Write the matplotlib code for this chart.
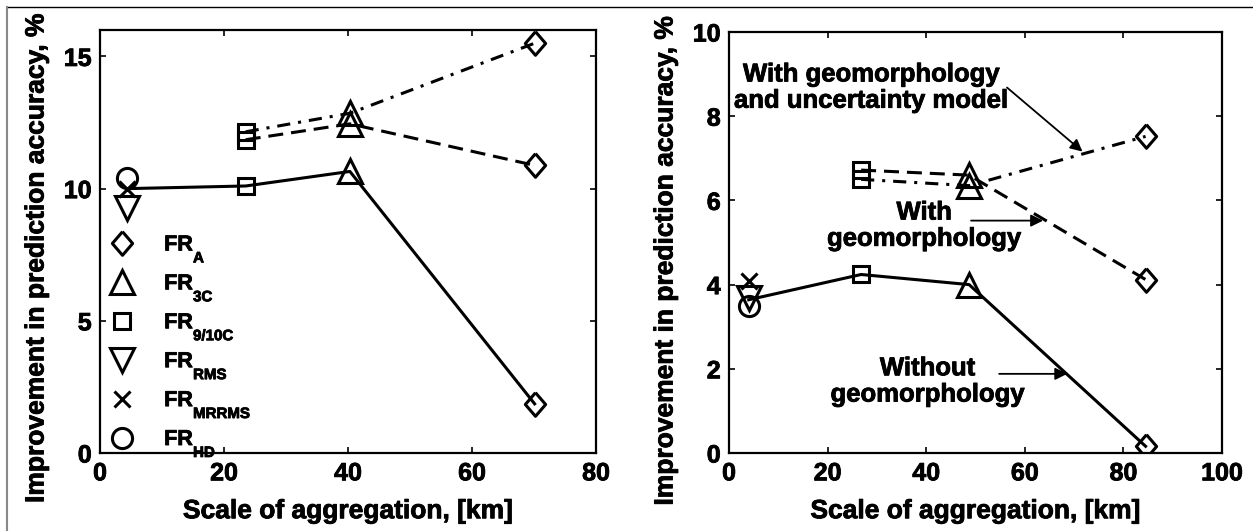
import matplotlib
matplotlib.use('Agg')
import matplotlib.pyplot as plt
import matplotlib.patheffects as pe
from matplotlib.lines import Line2D
import numpy as np

plt.rcParams['font.family'] = ['Liberation Sans', 'DejaVu Sans']
plt.rcParams['font.weight'] = 'bold'
plt.rcParams['mathtext.fontset'] = 'custom'
plt.rcParams['mathtext.rm'] = 'Liberation Sans:bold'
plt.rcParams['mathtext.bf'] = 'Liberation Sans:bold'
plt.rcParams['mathtext.it'] = 'Liberation Sans:bold'

# push the legend subscripts further down, like the original
try:
    from matplotlib import _mathtext
    _mathtext.FontConstantsBase.sub1 = 1.05
except Exception:
    pass

# data
scale_left = [4.4, 23.5, 40.3, 70.1]
left_without = [10.0, 10.1, 10.65, 1.86]
left_with = [np.nan, 11.85, 12.45, 10.88]
left_with_unc = [np.nan, 12.15, 12.85, 15.5]
left_rms, left_mrrms, left_hd = 9.28, 10.0, 10.39

scale_right = [4.0, 26.8, 48.7, 84.5]
right_without = [3.64, 4.24, 4.0, 0.16]
right_with = [np.nan, 6.72, 6.6, 4.12]
right_with_unc = [np.nan, 6.5, 6.35, 7.52]
right_rms, right_mrrms, right_hd = 3.68, 4.08, 3.48

point_markers = [None, 's', '^', 'D']
legend_labels = ['FR$_{\\mathrm{A}}$', 'FR$_{\\mathrm{3C}}$', 'FR$_{\\mathrm{9/10C}}$',
                 'FR$_{\\mathrm{RMS}}$', 'FR$_{\\mathrm{MRRMS}}$', 'FR$_{\\mathrm{HD}}$']

diamond = [(0, 1), (0.86, 0), (0, -1), (-0.86, 0), (0, 1)]
mk = {'D': dict(marker=diamond, ms=17),
      's': dict(marker='s', ms=11.5),
      '^': dict(marker='^', ms=17),
      'v': dict(marker='v', ms=17),
      'x': dict(marker='x', ms=11),
      'o': dict(marker='o', ms=14.5)}
mew = 2.2
lw = 2.2
dash = (0, (4.9, 2.6))
dashdot = (0, (4.3, 2.6, 1.0, 2.6))
heavy = [pe.withStroke(linewidth=0.6, foreground='k')]


def draw(ax, xs, ys, ls):
    ax.plot(xs, ys, color='k', lw=lw, linestyle=ls)
    for x, y, m in zip(xs, ys, point_markers):
        if m is None or np.isnan(y):
            continue
        ax.plot(x, y, color='k', mfc='none', mew=mew, linestyle='none', **mk[m])


def style(ax, label_y):
    for s in ax.spines.values():
        s.set_linewidth(1.6)
    ax.tick_params(direction='in', top=True, right=True, length=4.5, width=1.2,
                   labelsize=18, pad=6)
    for lab in ax.get_xticklabels() + ax.get_yticklabels():
        lab.set_fontweight('bold')
        lab.set_path_effects(heavy)
    ax.set_xlabel('Scale of aggregation, [km]', fontsize=19, fontweight='bold', labelpad=10,
                  path_effects=heavy)
    ax.set_ylabel('Improvement in prediction accuracy, %', fontsize=19, fontweight='bold',
                  labelpad=11, path_effects=heavy)
    ax.yaxis.label.set_y(label_y)


fig = plt.figure(figsize=(12.53, 5.31), dpi=100)
ax1 = fig.add_axes([100 / 1253, 1 - 453 / 531, 496 / 1253, 423 / 531])
ax2 = fig.add_axes([729 / 1253, 1 - 453 / 531, 493 / 1253, 421 / 531])

# left panel
draw(ax1, scale_left, left_with_unc, dashdot)
draw(ax1, scale_left, left_with, dash)
draw(ax1, scale_left, left_without, '-')
ax1.plot(scale_left[0], left_rms, color='k', mfc='none', mew=mew, ls='none', **mk['v'])
ax1.plot(scale_left[0], left_mrrms, color='k', mfc='none', mew=mew, ls='none', **mk['x'])
ax1.plot(scale_left[0], left_hd, color='k', mfc='none', mew=mew, ls='none', **mk['o'])
ax1.set_xlim(0, 80)
ax1.set_ylim(0, 16)
ax1.set_xticks([0, 20, 40, 60, 80])
ax1.set_yticks([0, 5, 10, 15])
style(ax1, 0.46)

handles = [Line2D([], [], color='k', mfc='none', mew=mew, ls='none', **mk[m])
           for m in ['D', '^', 's', 'v', 'x', 'o']]
leg = ax1.legend(handles, legend_labels, loc='upper left', bbox_to_anchor=(0.023, 0.519),
                 frameon=False, fontsize=15.5, handlelength=1.0, handletextpad=1.45,
                 labelspacing=0.34, borderpad=0, borderaxespad=0)
for t in leg.get_texts():
    t.set_fontweight('bold')
    t.set_path_effects(heavy)

# right panel
draw(ax2, scale_right, right_with_unc, dashdot)
draw(ax2, scale_right, right_with, dash)
draw(ax2, scale_right, right_without, '-')
ax2.plot(scale_right[0], right_rms, color='k', mfc='none', mew=mew, ls='none', **mk['v'])
ax2.plot(scale_right[0], right_mrrms, color='k', mfc='none', mew=mew, ls='none', **mk['x'])
ax2.plot(scale_right[0], right_hd, color='k', mfc='none', mew=mew, ls='none', **mk['o'])
ax2.set_xlim(0, 100)
ax2.set_ylim(0, 10)
ax2.set_xticks([0, 20, 40, 60, 80, 100])
ax2.set_yticks([0, 2, 4, 6, 8, 10])
style(ax2, 0.456)

txt = dict(ha='center', va='center', fontsize=18.5, fontweight='bold', linespacing=1.12,
           path_effects=heavy)
arr = dict(arrowstyle='-|>', color='k', lw=1.3, mutation_scale=18, shrinkA=0, shrinkB=0)
ax2.text(28.9, 8.68, 'With geomorphology\nand uncertainty model', **txt)
ax2.annotate('', xy=(71.7, 7.16), xytext=(56.4, 8.68), arrowprops=arr)
ax2.text(39.6, 5.40, 'With\ngeomorphology', **txt)
ax2.annotate('', xy=(63.7, 5.52), xytext=(49.1, 5.52), arrowprops=arr)
ax2.text(40.3, 1.70, 'Without\ngeomorphology', **txt)
ax2.annotate('', xy=(68.6, 1.88), xytext=(54.8, 1.88), arrowprops=arr)

# thin frame lines of the original image
fig.add_artist(Line2D([7 / 1253, 1], [1 - 7 / 531, 1 - 7 / 531], color='k', lw=1.0,
                      transform=fig.transFigure))
fig.add_artist(Line2D([7 / 1253, 7 / 1253], [0, 1 - 7 / 531], color='#888888', lw=1.5,
                      transform=fig.transFigure))

fig.savefig('out.png', dpi=100)
